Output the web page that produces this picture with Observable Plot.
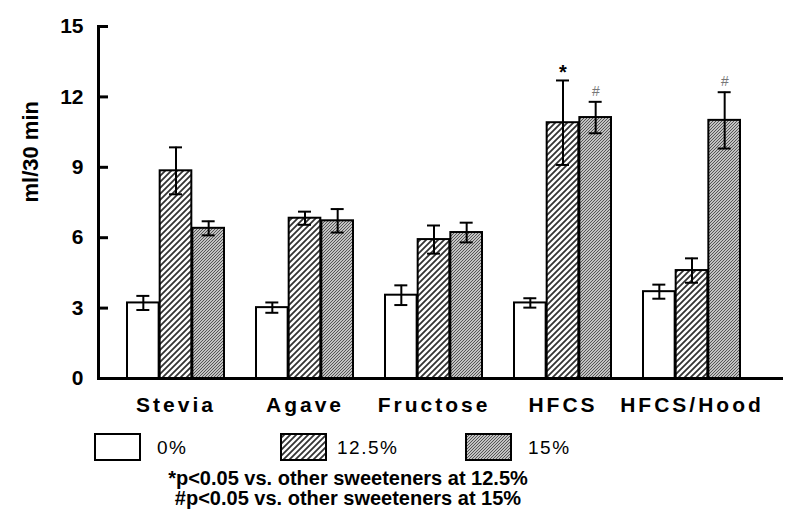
<!DOCTYPE html>
<html>
<head>
<meta charset="utf-8">
<script src="https://cdn.jsdelivr.net/npm/d3@7"></script>
<script src="https://cdn.jsdelivr.net/npm/@observablehq/plot@0.6"></script>
<style>
  html, body { margin: 0; padding: 0; background: #fff; }
  #wrap { position: relative; width: 800px; height: 532px; font-family: "Liberation Sans", Arial, sans-serif; color: #000; }
  #wrap svg.plot g[aria-label="x-axis tick label"] { letter-spacing: 3px; }
  .sw { position: absolute; top: 433px; width: 47px; height: 28px; }
  .lg { position: absolute; top: 437px; font-size: 19px; letter-spacing: 1.5px; }
  .fn { position: absolute; left: 0; width: 696px; text-align: center; font-size: 20px; font-weight: bold; }
</style>
</head>
<body>
<div id="wrap"></div>
<script>
// ---- data ----
const categories = ["Stevia", "Agave", "Fructose", "HFCS", "HFCS/Hood"];
const series = ["0%", "12.5%", "15%"];
const mean0   = [3.22, 3.02, 3.55, 3.22, 3.70];
const err0    = [0.30, 0.22, 0.42, 0.20, 0.30];
const mean125 = [8.85, 6.83, 5.92, 10.90, 4.60];
const err125  = [1.00, 0.28, 0.60, 1.80, 0.52];
const mean15  = [6.40, 6.72, 6.22, 11.12, 11.00];
const err15   = [0.30, 0.50, 0.42, 0.67, 1.20];
const yTicks = [0, 3, 6, 9, 12, 15];
const marks125 = ["", "", "", "*", ""];
const marks15  = ["", "", "", "#", "#"];
const footnotes = ["*p<0.05 vs. other sweeteners at 12.5%", "#p<0.05 vs. other sweeteners at 15%"];

const means = [mean0, mean125, mean15];
const errs = [err0, err125, err15];
const fills = ["white", "url(#hatch)", "url(#dense)"];
const rows = categories.flatMap((c, i) => series.map((s, j) => ({
  cat: c, s, j, mean: means[j][i], lo: means[j][i] - errs[j][i], hi: means[j][i] + errs[j][i],
  note: j === 1 ? marks125[i] : j === 2 ? marks15[i] : ""
})));

// ---- layout ----
const W = 800, H = 420, mL = 98, mR = 17, mT = 26, mB = 42;
const pIn = 0.246, pOut = 0.2577;
const step = (W - mL - mR) / (categories.length - pIn + 2 * pOut);
const bw = step * (1 - pIn);
const third = bw / 3;
const capHalf = 7;

const barMarks = [], errMarks = [];
series.forEach((s, j) => {
  const d = rows.filter(r => r.j === j);
  const off = (j - 1) * third;
  barMarks.push(Plot.barY(d, {
    x: "cat", y: "mean", fill: fills[j], stroke: "black", strokeWidth: 2,
    insetLeft: j * third, insetRight: (2 - j) * third
  }));
  errMarks.push(Plot.ruleX(d, {x: "cat", y1: "lo", y2: "hi", dx: off, stroke: "black", strokeWidth: 2}));
  errMarks.push(Plot.tickY(d, {x: "cat", y: "hi", dx: off, insetLeft: bw / 2 - capHalf, insetRight: bw / 2 - capHalf, stroke: "black", strokeWidth: 2}));
  errMarks.push(Plot.tickY(d, {x: "cat", y: "lo", dx: off, insetLeft: bw / 2 - capHalf, insetRight: bw / 2 - capHalf, stroke: "black", strokeWidth: 2}));
});

const star = rows.filter(r => r.note === "*");
const hash = rows.filter(r => r.note === "#");

const chart = Plot.plot({
  width: W, height: H,
  marginLeft: mL, marginRight: mR, marginTop: mT, marginBottom: mB,
  style: {fontFamily: "'Liberation Sans', Arial, sans-serif", fontSize: "21px", color: "black", background: "white"},
  className: "plot",
  x: {type: "band", domain: categories, paddingInner: pIn, paddingOuter: pOut, align: 0.4, label: null},
  y: {domain: [0, 15], label: null},
  marks: [
    ...barMarks,
    ...errMarks,
    Plot.text(star, {x: "cat", y: "hi", dx: 0, dy: -1, text: "note", lineAnchor: "bottom", fontSize: 20, fontWeight: "bold"}),
    Plot.text(hash, {x: "cat", y: "hi", dx: third, dy: -6, text: "note", lineAnchor: "bottom", fontSize: 14, fontStyle: "italic", fill: "#777"}),
    Plot.ruleY([0], {stroke: "black", strokeWidth: 3}),
    Plot.frame({anchor: "left", stroke: "black", strokeWidth: 3}),
    Plot.axisY({ticks: yTicks, tickSize: -10, strokeWidth: 3, tickFormat: () => "", label: null}),
    Plot.axisY({ticks: yTicks, tickSize: 0, tickPadding: 15, fontWeight: "bold", fontSize: 21, label: null}),
    Plot.text(["ml/30 min"], {frameAnchor: "left", dx: -68, rotate: -90, fontSize: 22, fontWeight: "bold", text: d => d}),
    Plot.axisX({tickSize: 0, tickPadding: 19, fontWeight: "bold", fontSize: 21, label: null})
  ]
});

const defs = `<defs>
  <pattern id="hatch" patternUnits="userSpaceOnUse" width="6" height="6">
    <rect width="6" height="6" fill="white"/>
    <path d="M-1,1 l2,-2 M0,6 l6,-6 M5,7 l2,-2" stroke="#333" stroke-width="1.8"/>
  </pattern>
  <pattern id="dense" patternUnits="userSpaceOnUse" width="3" height="3">
    <rect width="3" height="3" fill="#c2c2c2"/>
    <path d="M-1,1 l2,-2 M0,3 l3,-3 M2,4 l2,-2" stroke="#555" stroke-width="1"/>
  </pattern>
</defs>`;
chart.insertAdjacentHTML("afterbegin", defs);

const wrap = document.getElementById("wrap");
wrap.appendChild(chart);

// legend
const swX = [94, 280, 465];
const lgX = [157, 337, 528];
series.forEach((s, j) => {
  const sw = document.createElementNS("http://www.w3.org/2000/svg", "svg");
  sw.setAttribute("class", "sw");
  sw.setAttribute("width", 47); sw.setAttribute("height", 28);
  sw.style.left = swX[j] + "px";
  sw.innerHTML = `<rect x="1" y="1" width="45" height="26" fill="${fills[j]}" stroke="black" stroke-width="2"/>`;
  wrap.appendChild(sw);
  const t = document.createElement("div");
  t.className = "lg"; t.style.left = lgX[j] + "px"; t.textContent = s;
  wrap.appendChild(t);
});
footnotes.forEach((f, k) => {
  const d = document.createElement("div");
  d.className = "fn"; d.style.top = (467 + k * 20) + "px"; d.textContent = f;
  wrap.appendChild(d);
});
</script>
</body>
</html>
